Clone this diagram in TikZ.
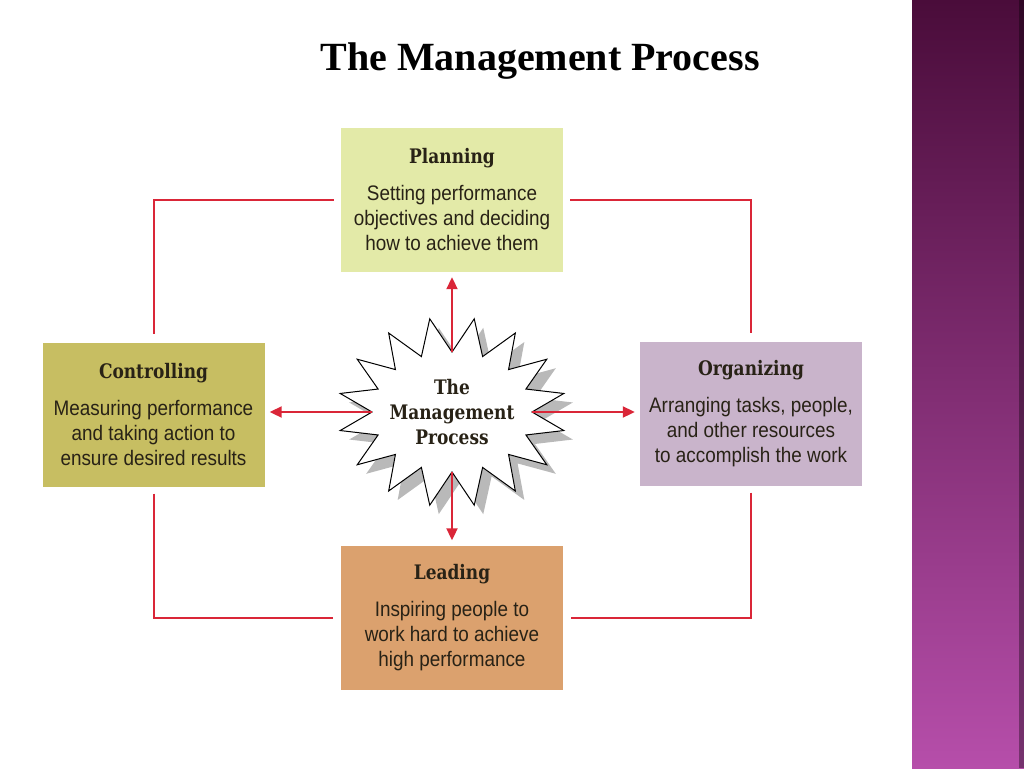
\documentclass[tikz,border=0pt]{standalone}
\usepackage{fontspec}
\setmainfont{Liberation Serif}
\newfontfamily\headfont[FakeStretch=0.85]{DejaVu Serif}
\newfontfamily\bodyfont[FakeStretch=0.9]{Liberation Sans}
\usepackage{tikz}
\usetikzlibrary{arrows.meta}
\usetikzlibrary{calc}
\usetikzlibrary{positioning}
\definecolor{planfill}{RGB}{227,234,168}
\definecolor{ctrlfill}{RGB}{199,190,98}
\definecolor{orgfill}{RGB}{201,180,203}
\definecolor{leadfill}{RGB}{219,161,110}
\definecolor{linkred}{RGB}{218,38,56}
\definecolor{boxtext}{RGB}{40,34,22}
\definecolor{barTop}{RGB}{74,12,58}
\definecolor{barBottom}{RGB}{182,78,170}
\tikzset{
    stage box/.style={
        fill=#1,
        minimum width=222pt,
        minimum height=144pt,
        align=center,
        text=boxtext,
        inner sep=0pt,
        font=\bodyfont\fontsize{21}{25}\selectfont,
    },
    cycle link/.style={
        draw=linkred,
        line width=2pt,
        shorten <=7pt,
        shorten >=8pt,
    },
    hub arrow/.style={
        draw=linkred,
        line width=2pt,
        -{Triangle[length=12pt,width=11pt]},
        shorten >=5pt,
    },
}
\newcommand\stagehead[1]{{\headfont\bfseries\fontsize{20}{22}\selectfont #1}\\[12pt]}

\begin{document}
\begin{tikzpicture}[x=1pt,y=-1pt]
    \useasboundingbox (0,0) rectangle (1024,768);

    % side bar
    \shade[top color=barTop, bottom color=barBottom] (912,0) rectangle (1024,768);
    \fill[black, opacity=0.35] (1019,0) rectangle (1024,768);

    \node (title) at (540,61) {\bfseries\fontsize{40}{48}\selectfont The Management Process};

    % the four stages
    \node[stage box=planfill] (plan) at (452,200)
        {\stagehead{Planning}Setting performance\\objectives and deciding\\how to achieve them};
    \node[stage box=ctrlfill] (ctrl) at (153.5,414.5)
        {\stagehead{Controlling}Measuring performance\\and taking action to\\ensure desired results};
    \node[stage box=orgfill] (org) at (751,413.5)
        {\stagehead{Organizing}Arranging tasks, people,\\and other resources\\to accomplish the work};
    \node[stage box=leadfill] (lead) at (452,617.5)
        {\stagehead{Leading}Inspiring people to\\work hard to achieve\\high performance};

    \draw[cycle link] (plan.west) -| (ctrl.north);
    \draw[cycle link] (plan.east) -| (org.north);
    \draw[cycle link] (ctrl.south) |- (lead.west);
    \draw[cycle link] (org.south) |- (lead.east);

    % star
    \coordinate (hubc) at (452,412);
    \begin{scope}[shift={(hubc)}]
        \fill[gray!55] ($(0:80 and 60)+(9,9)$)
            \foreach \k in {0,...,15} { -- ($({\k*22.5+11.25}:114 and 95)+(9,9)$) -- ($({\k*22.5+22.5}:80 and 60)+(9,9)$) } -- cycle;
        \draw[fill=white, line width=1pt] (0:80 and 60)
            \foreach \k in {0,...,15} { -- ({\k*22.5+11.25}:114 and 95) -- ({\k*22.5+22.5}:80 and 60) } -- cycle;
    \end{scope}
    \node[minimum width=160pt, minimum height=120pt, inner sep=0pt, align=center,
          font=\headfont\bfseries\fontsize{20}{25}\selectfont, text=boxtext] (hub) at (hubc)
        {The\\Management\\Process};

    \draw[hub arrow] (hub.north) -- (plan.south);
    \draw[hub arrow] (hub.south) -- (lead.north);
    \draw[hub arrow] (hub.west) -- (hub.west -| ctrl.east);
    \draw[hub arrow] (hub.east) -- (hub.east -| org.west);

\end{tikzpicture}
\end{document}
